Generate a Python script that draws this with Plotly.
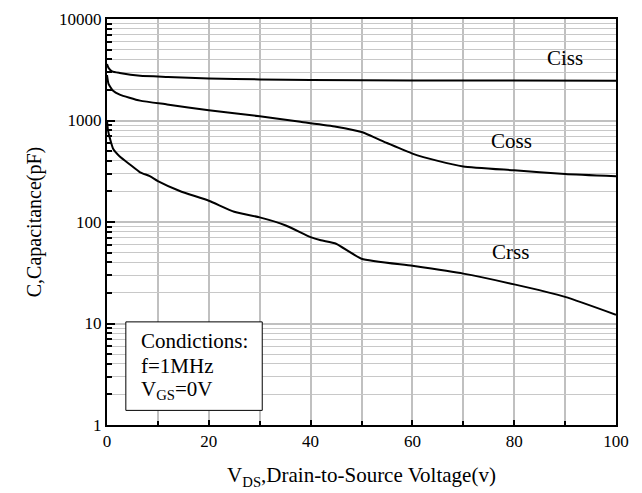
import plotly.graph_objects as go

vds_ciss = [0, 0.3, 1, 2.5, 6.5, 12, 20, 30, 40, 60, 80, 100]
ciss = [3600, 3300, 3050, 2940, 2760, 2690, 2600, 2540, 2500, 2480, 2475, 2470]

vds_coss = [0, 0.3, 1.2, 2.5, 6.5, 11.8, 20, 30, 38, 45, 50, 55, 60, 65, 70, 80, 90, 100]
coss = [2800, 2300, 1960, 1800, 1570, 1440, 1260, 1100, 970, 870, 770, 600, 472, 400, 353, 323, 297, 282]

vds_crss = [0, 0.2, 0.6, 1.2, 2.5, 4.5, 6.5, 8.4, 10, 14.3, 20, 25, 30, 35, 40, 42, 45, 50, 60, 70, 80, 90, 100]
crss = [1000, 800, 659, 527, 442, 369, 309, 283, 253, 202, 162, 126, 111, 93, 71, 66, 61, 43.5, 37, 31, 24.3, 18.3, 12.2]

x_ticks = [0, 20, 40, 60, 80, 100]
x_minor = [10, 30, 50, 70, 90]
y_ticks = [1, 10, 100, 1000, 10000]
y_labels = ["1", "10", "100", "1000", "10000"]
y_minor = [m * 10 ** d for d in range(4) for m in range(2, 10)]

FONT = "Liberation Serif"
fig = go.Figure()
for xs, ys in [(vds_ciss, ciss), (vds_coss, coss), (vds_crss, crss)]:
    fig.add_trace(go.Scatter(x=xs, y=ys, mode="lines",
                             line=dict(color="black", width=2, shape="spline", smoothing=0.5),
                             showlegend=False, hoverinfo="skip"))

fig.update_layout(
    width=642, height=493,
    margin=dict(l=107, r=26, t=10, b=65),
    paper_bgcolor="white", plot_bgcolor="white",
    font=dict(family=FONT, color="black", size=17),
)
fig.update_xaxes(
    range=[0, 100], tickvals=x_ticks, ticks="inside", ticklen=5, tickwidth=2, tickcolor="black",
    showline=True, linecolor="black", linewidth=2, mirror=True, zeroline=False,
    showgrid=True, gridcolor="#c0c0c0", gridwidth=2,
    minor=dict(tickvals=x_minor, ticks="inside", ticklen=4, tickwidth=2, tickcolor="black",
               showgrid=True, gridcolor="#c0c0c0", gridwidth=2),
    tickfont=dict(size=17, family=FONT),
    title=dict(text="V<sub>DS</sub>,Drain-to-Source Voltage(v)", font=dict(size=21, family=FONT), standoff=17),
)
fig.update_yaxes(
    type="log", range=[0, 4], tickvals=y_ticks, ticktext=y_labels,
    ticks="inside", ticklen=8, tickwidth=2, tickcolor="black",
    showline=True, linecolor="black", linewidth=2, mirror=True, zeroline=False,
    showgrid=True, gridcolor="#c0c0c0", gridwidth=2,
    minor=dict(tickvals=y_minor, ticks="inside", ticklen=5, tickwidth=2, tickcolor="black",
               showgrid=True, gridcolor="#c8c8c8", gridwidth=1),
    tickfont=dict(size=17, family=FONT),
    title=dict(text="C,Capacitance(pF)", font=dict(size=20, family=FONT), standoff=12),
)

fig.add_shape(type="rect", xref="paper", yref="paper", x0=0.037, x1=0.305, y0=0.036, y1=0.254,
              line=dict(color="black", width=1), fillcolor="white", layer="above")
for txt, yy in [("Condictions:", 0.208), ("f=1MHz", 0.145), ("V<sub>GS</sub>=0V", 0.087)]:
    fig.add_annotation(text=txt, xref="paper", yref="paper", x=0.062, y=yy, xanchor="left",
                       yanchor="middle", showarrow=False, font=dict(size=21, family=FONT))
for txt, xx, yy in [("Ciss", 0.90, 0.903), ("Coss", 0.794, 0.70), ("Crss", 0.792, 0.426)]:
    fig.add_annotation(text=txt, xref="paper", yref="paper", x=xx, y=yy, xanchor="center",
                       yanchor="middle", showarrow=False, font=dict(size=21, family=FONT))

fig.write_html("out.html")
